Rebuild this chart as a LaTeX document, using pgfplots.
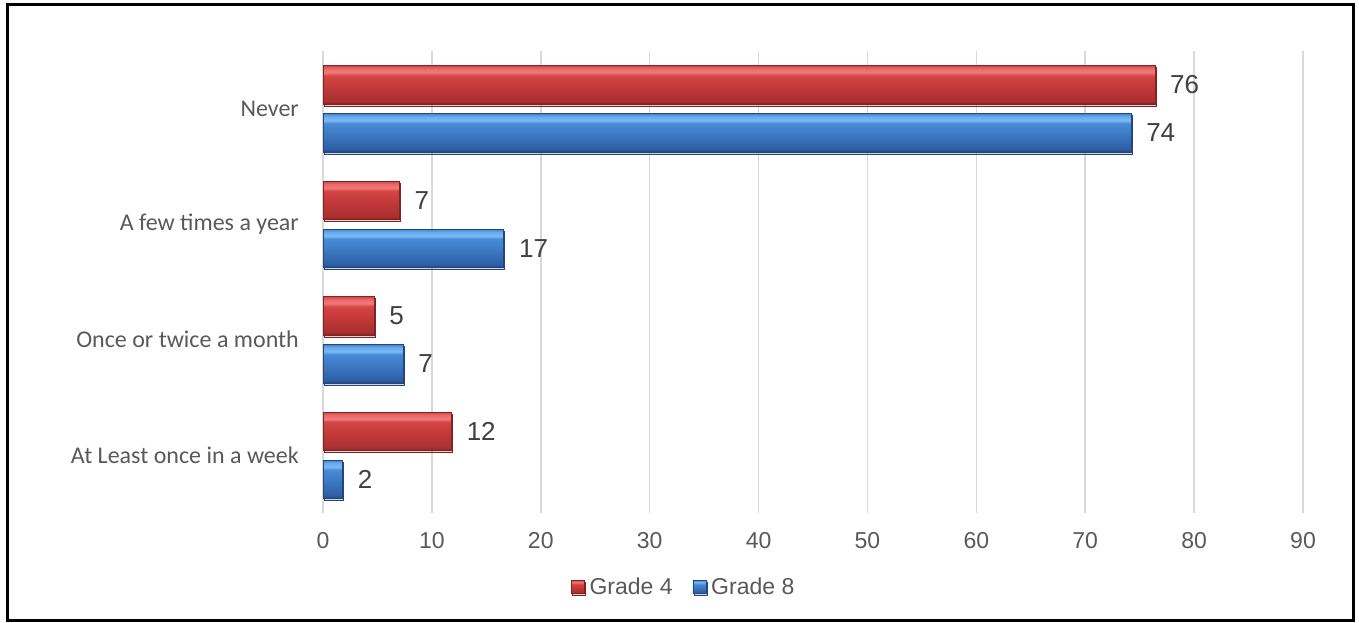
\documentclass[border=0pt]{standalone}
\usepackage{pgfplots}
\pgfplotsset{compat=1.18}
\usepackage{fontspec}
\setmainfont{Liberation Sans}
\newfontfamily\cat{Carlito}

\definecolor{tick}{RGB}{89,89,89}
\definecolor{lab}{RGB}{64,64,64}
\definecolor{grid}{RGB}{217,217,217}
\definecolor{rdark}{RGB}{130,35,35}
\definecolor{bdark}{RGB}{35,70,125}

% bevel look: dark bottom, mid body, light stripe near the top
\pgfdeclareverticalshading{redbar}{100bp}{%
  color(0bp)=(rdark); color(25bp)=(rdark);
  color(29bp)=(rgb,255:red,170;green,48;blue,48);
  color(50bp)=(rgb,255:red,198;green,58;blue,58);
  color(62bp)=(rgb,255:red,212;green,70;blue,70);
  color(66bp)=(rgb,255:red,242;green,122;blue,122);
  color(71bp)=(rgb,255:red,236;green,105;blue,105);
  color(75bp)=(rgb,255:red,200;green,72;blue,72);
  color(100bp)=(rgb,255:red,200;green,72;blue,72)}
\pgfdeclareverticalshading{bluebar}{100bp}{%
  color(0bp)=(bdark); color(25bp)=(bdark);
  color(29bp)=(rgb,255:red,45;green,95;blue,165);
  color(50bp)=(rgb,255:red,62;green,124;blue,198);
  color(62bp)=(rgb,255:red,72;green,138;blue,212);
  color(66bp)=(rgb,255:red,122;green,186;blue,246);
  color(71bp)=(rgb,255:red,104;green,170;blue,238);
  color(75bp)=(rgb,255:red,70;green,130;blue,200);
  color(100bp)=(rgb,255:red,70;green,130;blue,200)}

\pgfplotsset{
  g4/.style={bar shift=24pt, shading=redbar, draw=rdark, line width=0.6pt,
    preaction={fill=black, fill opacity=0.10, transform canvas={xshift=1pt, yshift=-2pt}},
    legend image code/.code={\draw[shading=redbar, draw=rdark] (0pt,-6.5pt) rectangle (13pt,6.5pt);}},
  g8/.style={bar shift=-24pt, shading=bluebar, draw=bdark, line width=0.6pt,
    preaction={fill=black, fill opacity=0.10, transform canvas={xshift=1pt, yshift=-2pt}},
    legend image code/.code={\draw[shading=bluebar, draw=bdark] (0pt,-6.5pt) rectangle (13pt,6.5pt);}},
}

\begin{document}
\begin{tikzpicture}
\useasboundingbox (0pt,0pt) rectangle (1359pt,-623pt);
\begin{axis}[
  at={(323pt,-513pt)}, anchor=south west,
  scale only axis, width=980pt, height=462pt,
  xmin=0, xmax=90, ymin=-0.5, ymax=3.5,
  xbar, bar width=38.5pt,
  xtick={0,10,...,90},
  ytick={0,1,2,3},
  yticklabels={At Least once in a week, Once or twice a month, A few times a year, Never},
  /pgf/number format/assume math mode=true,
  xticklabel style={font=\fontsize{23}{27}\selectfont, text=tick, anchor=center, inner sep=0pt, yshift=-28pt},
  yticklabel style={font=\cat\fontsize{24}{28}\selectfont, text=tick, anchor=east, inner sep=0pt, xshift=-24pt},
  axis line style={draw=none},
  tick style={draw=none},
  major tick length=0pt,
  xmajorgrids, ymajorgrids=false,
  grid style={line width=1.6pt, color=grid},
  point meta=explicit symbolic,
  nodes near coords,
  every node near coord/.append style={anchor=west, inner sep=0pt, xshift=15pt,
    font=\fontsize{26}{30}\selectfont, text=lab},
  legend columns=2,
  legend style={draw=none, fill=none, at={(0.368,-0.160)}, anchor=center,
    font=\fontsize{23}{27}\selectfont, text=tick,
    /tikz/every odd column/.append style={column sep=3pt},
    /tikz/every even column/.append style={column sep=18pt}},
  legend cell align=left,
]
% Grade 4, one bar per plot so that each bar gets its own shading
\addplot[g4] coordinates {(11.8,0) [12]};
\addplot[g4, forget plot] coordinates {(4.7,1) [5]};
\addplot[g4, forget plot] coordinates {(7.0,2) [7]};
\addplot[g4, forget plot] coordinates {(76.4,3) [76]};
% Grade 8
\addplot[g8] coordinates {(1.8,0) [2]};
\addplot[g8, forget plot] coordinates {(7.35,1) [7]};
\addplot[g8, forget plot] coordinates {(16.6,2) [17]};
\addplot[g8, forget plot] coordinates {(74.2,3) [74]};
\legend{Grade 4, Grade 8}
\end{axis}
\draw[line width=2.6pt] (7.2pt,-4.8pt) rectangle (1353.3pt,-620.3pt);
\end{tikzpicture}
\end{document}
